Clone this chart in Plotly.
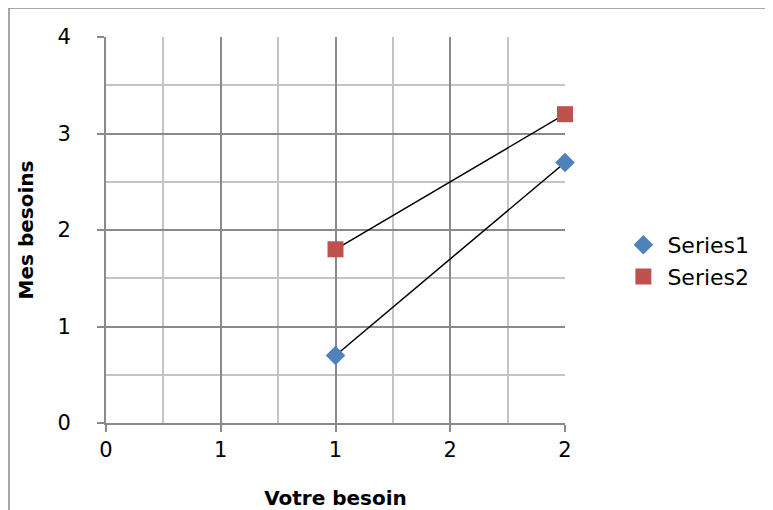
import plotly.graph_objects as go

# Data
series_names = ["Series1", "Series2"]
s1_x = [1, 2]
s1_y = [0.7, 2.7]
s2_x = [1, 2]
s2_y = [1.8, 3.2]
x_tickvals = [0, 0.5, 1, 1.5, 2]
x_ticktext = ["0", "1", "1", "2", "2"]
y_tickvals = [0, 1, 2, 3, 4]
y_ticktext = ["0", "1", "2", "3", "4"]

FONT = "DejaVu Sans"
FS = 21
major = "#8a8a8a"
minor = "#c4c4c4"

W, H = 765, 502
L, T = 98, 29
PW, PH = 459, 386

fig = go.Figure()
# connecting lines (black)
for xs, ys in [(s1_x, s1_y), (s2_x, s2_y)]:
    fig.add_trace(go.Scatter(x=xs, y=ys, mode="lines", line=dict(color="black", width=1.5),
                             showlegend=False, hoverinfo="skip", cliponaxis=False))
fig.add_trace(go.Scatter(x=s1_x, y=s1_y, mode="markers", name=series_names[0], cliponaxis=False,
                         marker=dict(symbol="diamond", size=15, color="#4F81BD")))
fig.add_trace(go.Scatter(x=s2_x, y=s2_y, mode="markers", name=series_names[1], cliponaxis=False,
                         marker=dict(symbol="square", size=16, color="#C0504D")))

axis_common = dict(showline=True, linecolor=major, linewidth=2, ticks="outside",
                   ticklen=7, tickwidth=2, tickcolor=major, showgrid=True,
                   gridcolor=major, gridwidth=2, zeroline=False, automargin=False,
                   tickfont=dict(family=FONT, size=FS, color="black"))

fig.update_xaxes(range=[0, 2], tickmode="array", tickvals=x_tickvals, ticktext=x_ticktext,
                 minor=dict(dtick=0.25, tick0=0, showgrid=True, gridcolor=minor, gridwidth=2),
                 title=dict(text="<b>Votre besoin</b>", font=dict(family=FONT, size=20, color="black"),
                            standoff=30),
                 **axis_common)
fig.update_yaxes(range=[0, 4], tickmode="array", tickvals=y_tickvals, ticktext=y_ticktext,
                 minor=dict(dtick=0.5, tick0=0, showgrid=True, gridcolor=minor, gridwidth=2),
                 title=dict(text="<b>Mes besoins</b>", font=dict(family=FONT, size=20, color="black"),
                            standoff=18),
                 ticklabelstandoff=22,
                 **axis_common)

fig.update_layout(
    width=W, height=H,
    margin=dict(l=L, r=W - L - PW, t=T, b=H - T - PH),
    paper_bgcolor="white", plot_bgcolor="white",
    font=dict(family=FONT, size=FS, color="black"),
    legend=dict(x=1.125 - 3 / PW, y=0.5 - 31 / PH, xanchor="left", yanchor="middle",
                itemwidth=38,
                font=dict(family=FONT, size=22, color="black"),
                bgcolor="rgba(0,0,0,0)"),
    shapes=[dict(type="rect", xref="paper", yref="paper",
                 x0=(1 - L) / PW, x1=1.5, y0=-0.5, y1=1 + (T - 0) / PH,
                 line=dict(color="#8a8a8a", width=1.5), layer="below")],
)

fig.write_html("out.html")
